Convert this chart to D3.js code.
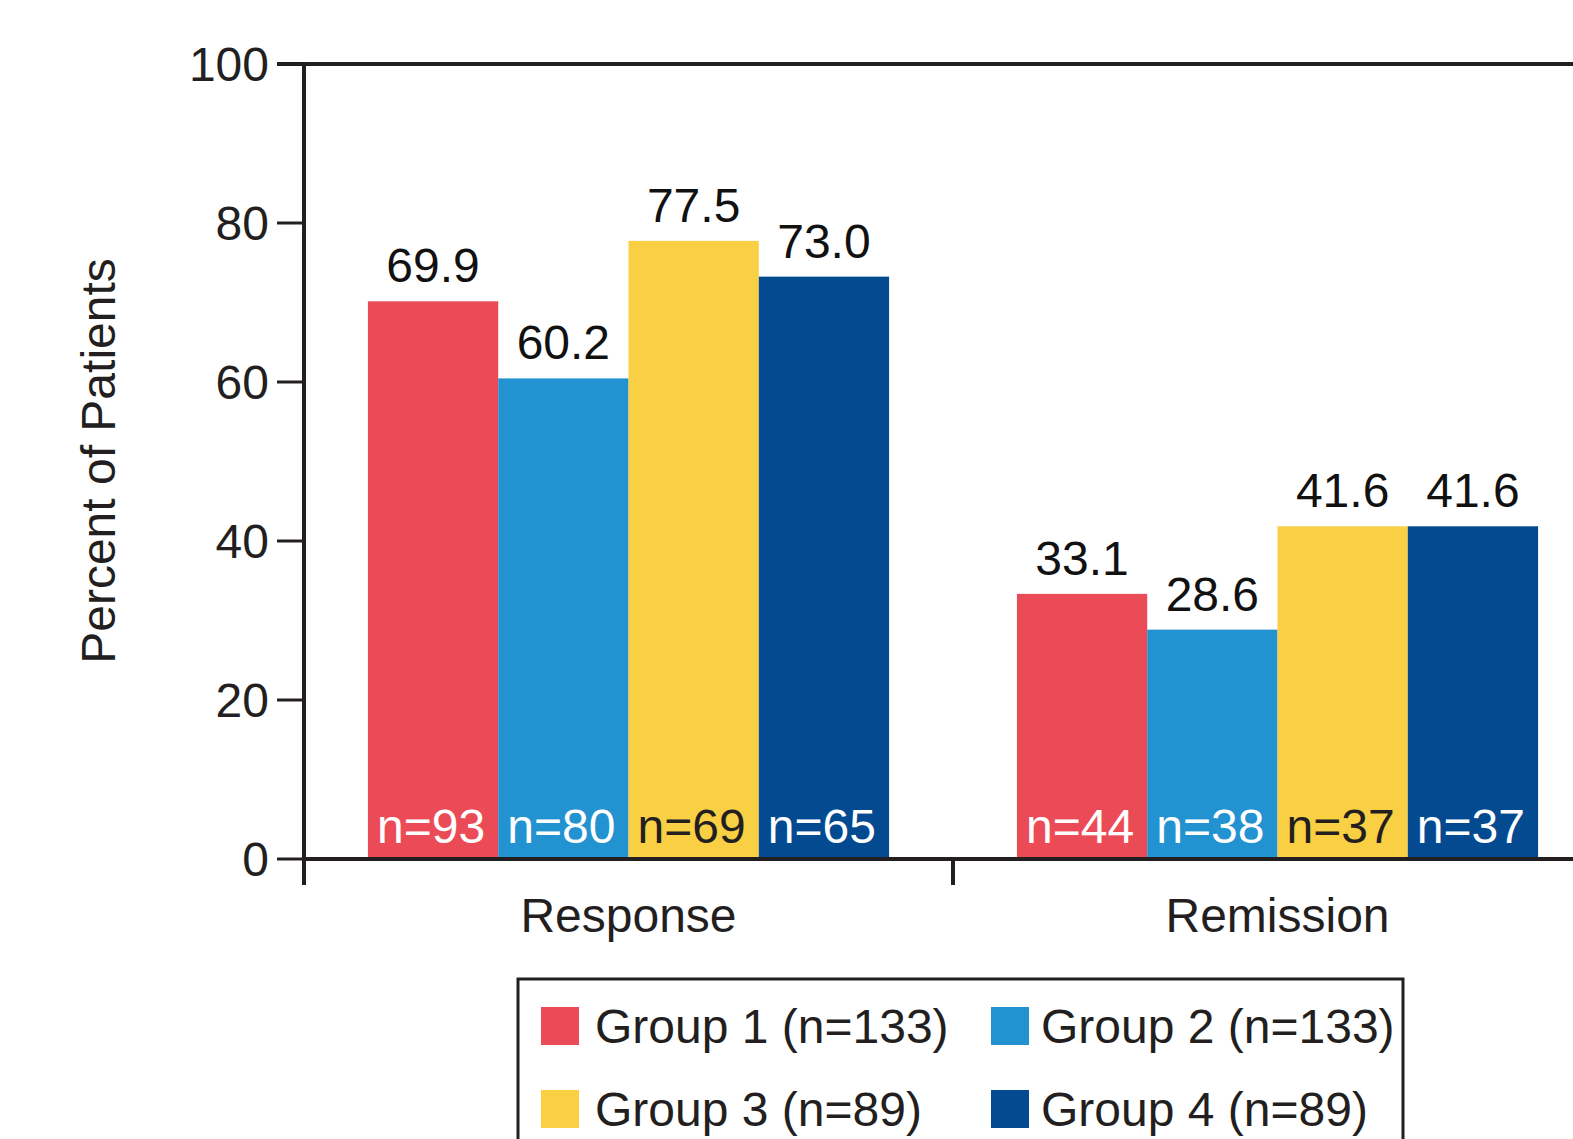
<!DOCTYPE html>
<html>
<head>
<meta charset="utf-8">
<script src="https://cdn.jsdelivr.net/npm/d3@7"></script>
<style>
  html, body { margin: 0; padding: 0; background: #ffffff; }
  svg { display: block; font-family: "Liberation Sans", Arial, Helvetica, sans-serif; }
</style>
</head>
<body>
<svg id="chart" width="1573" height="1139"></svg>
<script>
// Outcome categories and treatment groups
const categories = ["Response", "Remission"];
const groups = ["Group 1", "Group 2", "Group 3", "Group 4"];
const groupSizes = [133, 133, 89, 89];

// Percent of patients per group, one array per category
const responseValues = [69.9, 60.2, 77.5, 73.0];
const remissionValues = [33.1, 28.6, 41.6, 41.6];

// Patient counts shown inside the bars
const responseCounts = [93, 80, 69, 65];
const remissionCounts = [44, 38, 37, 37];

const yTicks = [0, 20, 40, 60, 80, 100];

const colors = ["#EB4B56", "#2392D0", "#F9D044", "#034A91"];
const countTextColors = ["#ffffff", "#ffffff", "#231F20", "#ffffff"];
const ink = "#231F20";

const rows = [
  { category: categories[0], values: responseValues, counts: responseCounts },
  { category: categories[1], values: remissionValues, counts: remissionCounts }
];

const svg = d3.select("#chart");
const W = 1573, H = 1139;
const fontSize = 48;

// Scales
const x0 = d3.scaleBand().domain(categories).range([304, 1602]).paddingInner(0).paddingOuter(0);
const barSpan = x0.bandwidth() * 0.803;
const x1 = d3.scaleBand().domain(groups).range([0, barSpan]).padding(0);
const y = d3.scaleLinear().domain([0, 100]).range([857, 62]);
const lw = 4; // axis line weight; lines sit just below their scale position

// Bars
const catG = svg.selectAll("g.cat").data(rows).join("g")
  .attr("class", "cat")
  .attr("transform", d => `translate(${x0(d.category) + (x0.bandwidth() - barSpan) / 2},0)`);

catG.selectAll("rect").data(d => d.values.map((v, i) => ({ v, i, n: d.counts[i] }))).join("rect")
  .attr("x", d => x1(groups[d.i]))
  .attr("width", x1.bandwidth())
  .attr("y", d => y(d.v))
  .attr("height", d => y(0) - y(d.v))
  .attr("fill", d => colors[d.i]);

// Value labels above bars
catG.selectAll("text.val").data(d => d.values.map((v, i) => ({ v, i }))).join("text")
  .attr("class", "val")
  .attr("x", d => x1(groups[d.i]) + x1.bandwidth() / 2)
  .attr("y", d => y(d.v) - 19)
  .attr("text-anchor", "middle")
  .attr("font-size", fontSize)
  .attr("fill", "#111")
  .text(d => d.v.toFixed(1));

// Count labels at the foot of each bar
catG.selectAll("text.cnt").data(d => d.counts.map((n, i) => ({ n, i }))).join("text")
  .attr("class", "cnt")
  .attr("x", d => x1(groups[d.i]) + x1.bandwidth() / 2 - 2)
  .attr("y", y(0) - 14)
  .attr("text-anchor", "middle")
  .attr("font-size", fontSize)
  .attr("fill", d => countTextColors[d.i])
  .text(d => `n=${d.n}`);

// Frame: top rule, y axis, x axis
const xLeft = x0.range()[0];
svg.append("line")
  .attr("x1", 277).attr("x2", W)
  .attr("y1", y(100) + lw / 2).attr("y2", y(100) + lw / 2)
  .attr("stroke", ink).attr("stroke-width", lw);

svg.append("line")
  .attr("x1", xLeft).attr("x2", xLeft)
  .attr("y1", y(100)).attr("y2", y(0) + 28)
  .attr("stroke", ink).attr("stroke-width", 4);

svg.append("line")
  .attr("x1", xLeft).attr("x2", W)
  .attr("y1", y(0) + lw / 2).attr("y2", y(0) + lw / 2)
  .attr("stroke", ink).attr("stroke-width", lw);

// Y ticks and labels
const yt = svg.selectAll("g.ytick").data(yTicks).join("g")
  .attr("class", "ytick")
  .attr("transform", d => `translate(0,${y(d) + 2})`);
yt.append("line")
  .attr("x1", 277).attr("x2", xLeft)
  .attr("stroke", ink).attr("stroke-width", 3);
yt.append("text")
  .attr("x", 269)
  .attr("dy", "0.355em")
  .attr("text-anchor", "end")
  .attr("font-size", fontSize)
  .attr("fill", ink)
  .text(d => d);

// Category separator tick and labels
svg.append("line")
  .attr("x1", x0(categories[1])).attr("x2", x0(categories[1]))
  .attr("y1", y(0)).attr("y2", y(0) + 28)
  .attr("stroke", ink).attr("stroke-width", 4);

svg.selectAll("text.catlab").data(categories).join("text")
  .attr("class", "catlab")
  .attr("x", d => x0(d) + x0.bandwidth() / 2)
  .attr("y", 932)
  .attr("text-anchor", "middle")
  .attr("font-size", fontSize)
  .attr("fill", ink)
  .text(d => d);

// Y axis title
svg.append("text")
  .attr("transform", "translate(115,461) rotate(-90)")
  .attr("text-anchor", "middle")
  .attr("font-size", fontSize)
  .attr("fill", ink)
  .text("Percent of Patients");

// Legend
svg.append("rect")
  .attr("x", 518).attr("y", 979)
  .attr("width", 885).attr("height", 200)
  .attr("fill", "none")
  .attr("stroke", ink).attr("stroke-width", 3);

const legendCols = [541, 991];
const legendTextGap = [54, 50];
const legendRows = [1007, 1090];
const lg = svg.selectAll("g.leg").data(groups).join("g")
  .attr("class", "leg")
  .attr("transform", (d, i) => `translate(${legendCols[i % 2]},${legendRows[Math.floor(i / 2)]})`);
lg.append("rect")
  .attr("width", 38).attr("height", 38)
  .attr("fill", (d, i) => colors[i]);
lg.append("text")
  .attr("x", (d, i) => legendTextGap[i % 2])
  .attr("y", 36)
  .attr("font-size", fontSize)
  .attr("fill", ink)
  .text((d, i) => `${d} (n=${groupSizes[i]})`);
</script>
</body>
</html>
